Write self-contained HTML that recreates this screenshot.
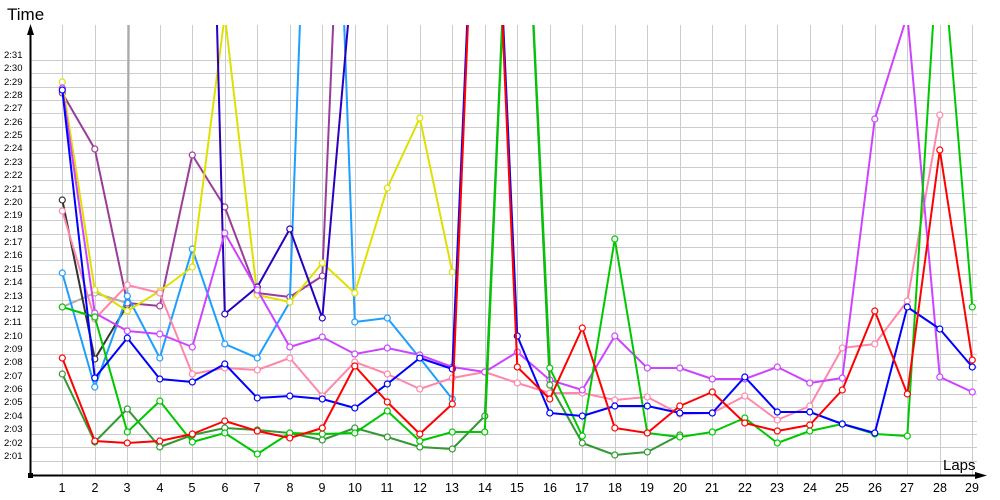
<!DOCTYPE html>
<html><head><meta charset="utf-8"><style>
html,body{margin:0;padding:0;background:#fff;}
svg{display:block;font-family:"Liberation Sans",sans-serif;}
</style></head><body>
<svg id="c" width="1000" height="500" viewBox="0 0 1000 500" xmlns="http://www.w3.org/2000/svg">
<defs><clipPath id="cp"><rect x="30" y="25" width="960" height="450"/></clipPath></defs>
<g id="grid" stroke="#cccccc" stroke-width="1"></g>
<g id="series" clip-path="url(#cp)"></g>
<g fill="#000">
<line x1="30.5" y1="475" x2="30.5" y2="32" stroke="#000" stroke-width="2"/>
<polygon points="30.5,24 27,35 34,35"/>
<line x1="29" y1="475.5" x2="978" y2="475.5" stroke="#000" stroke-width="2"/>
<polygon points="987,475.5 975,472 975,479"/>
<rect x="28" y="473" width="5" height="5"/>
<text x="7" y="20" font-size="17">Time</text>
<text x="943" y="470" font-size="15">Laps</text>
</g>
<g font-size="9.5" fill="#000">
<text x="4" y="459">2:01</text><text x="4" y="446">2:02</text><text x="4" y="432">2:03</text><text x="4" y="419">2:04</text><text x="4" y="405">2:05</text><text x="4" y="392">2:06</text><text x="4" y="379">2:07</text><text x="4" y="365">2:08</text><text x="4" y="352">2:09</text><text x="4" y="339">2:10</text><text x="4" y="325">2:11</text><text x="4" y="312">2:12</text><text x="4" y="299">2:13</text><text x="4" y="285">2:14</text><text x="4" y="272">2:15</text><text x="4" y="258">2:16</text><text x="4" y="245">2:17</text><text x="4" y="232">2:18</text><text x="4" y="218">2:19</text><text x="4" y="205">2:20</text><text x="4" y="192">2:21</text><text x="4" y="178">2:22</text><text x="4" y="165">2:23</text><text x="4" y="151">2:24</text><text x="4" y="138">2:25</text><text x="4" y="125">2:26</text><text x="4" y="111">2:27</text><text x="4" y="98">2:28</text><text x="4" y="85">2:29</text><text x="4" y="71">2:30</text><text x="4" y="58">2:31</text>
</g>
<g font-size="12.5" fill="#000" text-anchor="middle">
<text x="62" y="492">1</text><text x="95" y="492">2</text><text x="127" y="492">3</text><text x="160" y="492">4</text><text x="192" y="492">5</text><text x="225" y="492">6</text><text x="257" y="492">7</text><text x="290" y="492">8</text><text x="322" y="492">9</text><text x="355" y="492">10</text><text x="387" y="492">11</text><text x="420" y="492">12</text><text x="452" y="492">13</text><text x="485" y="492">14</text><text x="517" y="492">15</text><text x="550" y="492">16</text><text x="582" y="492">17</text><text x="615" y="492">18</text><text x="647" y="492">19</text><text x="680" y="492">20</text><text x="712" y="492">21</text><text x="745" y="492">22</text><text x="777" y="492">23</text><text x="810" y="492">24</text><text x="842" y="492">25</text><text x="875" y="492">26</text><text x="907" y="492">27</text><text x="940" y="492">28</text><text x="972" y="492">29</text>
</g>
</svg>
<script>
var NS="http://www.w3.org/2000/svg";
function X(l){return 62.3+32.5*(l-1);}
var g=document.getElementById('grid');
function ln(p,x1,y1,x2,y2){var e=document.createElementNS(NS,'line');e.setAttribute('x1',x1);e.setAttribute('y1',y1);e.setAttribute('x2',x2);e.setAttribute('y2',y2);p.appendChild(e);}
for(var k=1;k<=31;k++){var y=Math.round(474-13.36*k)+0.5;ln(g,31,y,977,y);}
for(var l=1;l<=29;l++){var x=Math.round(X(l))+0.5;ln(g,x,25,x,475);}
// [color, startLap, values...] ; null = gap
var S=[
["#aaaaaa",1,[307,293,303,-6000]],
["#333333",1,[200,359,305]],
["#993d99",1,[93,149,303,306,155,207,293,297,276,-477]],
["#1e9eff",1,[273,387,296,358,249,344,358,302,-590,322,318,358,399]],
["#e0e000",1,[82,290,311,291,267,15,295,302,263,293,188,118,272]],
["#2a00c0",5,[-890,314,287,229,318,-53]],
["#ff88aa",1,[211,319,285,293,374,368,370,358,396,362,374,389,378,372,383,393,393,400,397,414,413,396,420,406,348,344,301,115]],
["#cc44ff",1,[88,313,331,334,347,233,290,347,337,354,348,355,367,372,352,380,390,336,368,368,379,379,367,383,378,119,15,377,392]],
["#339933",1,[374,442,409,447,435,428,430,433,440,428,437,447,449,416,-322,385,443,455,452,435]],
["#00c800",1,[307,317,432,401,442,433,454,433,434,433,411,441,432,432,-322,368,436,239,433,437,432,418,443,431,424,434,436,-84,307]],
["#0000ff",1,[90,378,338,379,382,364,398,396,399,408,384,358,369,-386,336,413,416,406,406,413,413,377,412,412,424,433,307,329,367]],
["#ff0000",1,[358,441,443,441,434,421,431,438,428,366,402,434,404,-386,367,399,328,428,433,406,392,423,431,425,390,311,394,150,360]]
];
var sg=document.getElementById('series');
S.forEach(function(s){
  var pts=s[2].map(function(v,i){return [X(s[1]+i),v];});
  var pl=document.createElementNS(NS,'polyline');
  pl.setAttribute('points',pts.map(function(p){return p[0].toFixed(1)+','+p[1];}).join(' '));
  pl.setAttribute('fill','none');pl.setAttribute('stroke',s[0]);pl.setAttribute('stroke-width','2');pl.setAttribute('stroke-linejoin','round');
  sg.appendChild(pl);
  pts.forEach(function(p){
    if(p[1]<25||p[1]>475)return;
    var c=document.createElementNS(NS,'circle');
    c.setAttribute('cx',p[0]);c.setAttribute('cy',p[1]);c.setAttribute('r','3');
    c.setAttribute('fill','#fff');c.setAttribute('stroke',s[0]);c.setAttribute('stroke-width','1.2');
    sg.appendChild(c);
  });
});
</script>
</body></html>
